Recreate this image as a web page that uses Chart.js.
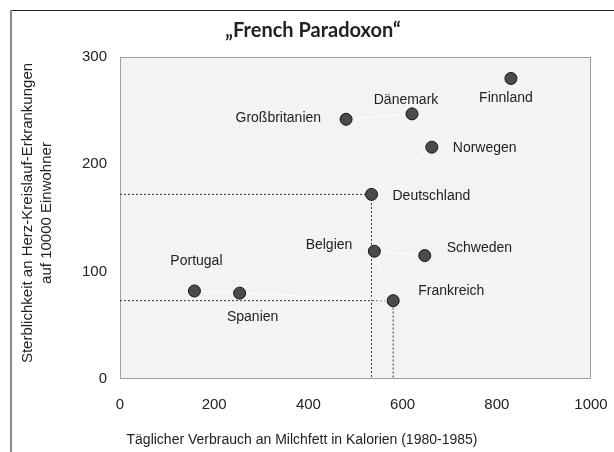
<!DOCTYPE html>
<html>
<head>
<meta charset="utf-8">
<script src="https://cdn.jsdelivr.net/npm/chart.js@4"></script>
<style>
  html, body { margin: 0; padding: 0; background: #fff; }
  #wrap { width: 614px; height: 452px; }
</style>
</head>
<body>
<div id="wrap"><canvas id="myChart" width="614" height="452"></canvas></div>
<script>
"use strict";

// Daten
const countries = ["Finnland", "Dänemark", "Großbritanien", "Norwegen", "Deutschland",
                   "Belgien", "Schweden", "Frankreich", "Portugal", "Spanien"];
const milkFat   = [830, 620, 480, 662, 534, 540, 647, 580, 158, 254];   // kcal / Tag
const mortality = [280, 247, 242, 216, 172, 119, 115, 73, 82, 80];      // je 10000 Einwohner
const xTicks = [0, 200, 400, 600, 800, 1000];
const yTicks = [0, 100, 200, 300];

// weisse Verbindungslinien zwischen Ländern
const linkChains = [
    ["Schweden", "Belgien", "Frankreich", "Spanien", "Portugal"],
    ["Deutschland", "Norwegen", "Dänemark", "Großbritanien"]
];
// gestrichelte Hilfslinien zu den Achsen
const dropTo = ["Deutschland", "Frankreich"];

const chartTitle = "„French Paradoxon“";
const xTitle = "Täglicher Verbrauch an Milchfett in Kalorien (1980-1985)";
const yTitle = ["Sterblichkeit an Herz-Kreislauf-Erkrankungen", "auf 10000 Einwohner"];

function pt(name) {
    const i = countries.indexOf(name);
    return { x: milkFat[i], y: mortality[i] };
}

// Beschriftungs-Versatz (dx, dy, Ausrichtung)
const labelPos = {
    "Finnland":      [-5, 20, "center"],
    "Dänemark":      [-6, -14, "center"],
    "Großbritanien": [-25, -1, "right"],
    "Norwegen":      [21, 1, "left"],
    "Deutschland":   [21, 2, "left"],
    "Belgien":       [-22, -6, "right"],
    "Schweden":      [22, -7, "left"],
    "Frankreich":    [25, -10, "left"],
    "Portugal":      [2, -30, "center"],
    "Spanien":       [13, 24, "center"]
};

const FAMILY = '"Liberation Sans", Arial, sans-serif';

const decorPlugin = {
    id: 'decor',
    beforeDraw(chart) {
        const ctx = chart.ctx;
        const a = chart.chartArea;
        ctx.save();
        ctx.fillStyle = '#fff';
        ctx.fillRect(0, 0, chart.width, chart.height);
        // Rahmen
        ctx.strokeStyle = '#222';
        ctx.lineWidth = 1;
        ctx.beginPath();
        ctx.moveTo(10, 10.5);
        ctx.lineTo(chart.width, 10.5);
        ctx.stroke();
        ctx.strokeStyle = '#8a8a8a';
        ctx.lineWidth = 2;
        ctx.beginPath();
        ctx.moveTo(11, 10);
        ctx.lineTo(11, chart.height);
        ctx.stroke();
        // Plotfläche
        ctx.fillStyle = '#f3f3f3';
        ctx.fillRect(a.left, a.top, a.right - a.left, a.bottom - a.top);
        ctx.strokeStyle = '#a0a0a0';
        ctx.lineWidth = 1;
        ctx.strokeRect(a.left + 0.5, a.top + 0.5, a.right - a.left - 1, a.bottom - a.top - 1);
        ctx.restore();
    },
    afterDatasetsDraw(chart) {
        const ctx = chart.ctx;
        const xs = chart.scales.x, ys = chart.scales.y;
        ctx.save();
        ctx.font = '14px ' + FAMILY;
        ctx.fillStyle = '#222';
        ctx.textBaseline = 'middle';
        countries.forEach(function (c, i) {
            const p = labelPos[c];
            ctx.textAlign = p[2];
            ctx.fillText(c, xs.getPixelForValue(milkFat[i]) + p[0], ys.getPixelForValue(mortality[i]) + p[1]);
        });
        // Achsentitel
        ctx.textAlign = 'center';
        ctx.fillText(xTitle, 302, 440);
        ctx.font = '15px ' + FAMILY;
        ctx.translate(28, 213);
        ctx.rotate(-Math.PI / 2);
        ctx.fillText(yTitle[0], 0, 0);
        ctx.fillText(yTitle[1], 0, 19);
        ctx.restore();
    }
};

const datasets = [{
    label: 'Länder',
    data: countries.map(pt),
    showLine: false,
    pointRadius: 6,
    pointHoverRadius: 6,
    pointBackgroundColor: '#4b4b4b',
    pointBorderColor: '#151515',
    pointBorderWidth: 1
}];
linkChains.forEach(function (chain) {
    datasets.push({
        data: chain.map(pt),
        showLine: true,
        borderColor: '#ffffff',
        borderWidth: 1,
        pointRadius: 0
    });
});
dropTo.forEach(function (name) {
    const p = pt(name);
    datasets.push({
        data: [{ x: 0, y: p.y }, { x: p.x, y: p.y }, { x: p.x, y: 0 }],
        showLine: true,
        borderColor: '#333',
        borderWidth: 1,
        borderDash: [2, 2],
        pointRadius: 0
    });
});

const ctx = document.getElementById('myChart').getContext('2d');
const chart = new Chart(ctx, {
    type: 'scatter',
    data: { datasets: datasets },
    options: {
        responsive: false,
        animation: false,
        devicePixelRatio: 1,
        layout: { padding: { top: 0, right: 23, bottom: 0, left: 35 } },
        plugins: {
            legend: { display: false },
            tooltip: { enabled: false },
            title: {
                display: true,
                text: chartTitle,
                color: '#222',
                font: { family: 'Lato', size: 20, weight: 'bold' },
                padding: { top: 19, bottom: 14 }
            }
        },
        scales: {
            x: {
                type: 'linear',
                min: 0, max: 1000,
                afterBuildTicks: function (s) { s.ticks = xTicks.map(function (v) { return { value: v }; }); },
                afterFit: function (s) { s.height = 73; s.paddingLeft = 0; s.paddingRight = 0; },
                grid: { display: false, drawTicks: false },
                border: { display: false },
                ticks: {
                    padding: 17,
                    color: '#222',
                    font: { family: FAMILY, size: 15 },
                    callback: function (v) { return String(v); }
                }
            },
            y: {
                type: 'linear',
                min: 0, max: 300,
                afterBuildTicks: function (s) { s.ticks = yTicks.map(function (v) { return { value: v }; }); },
                afterFit: function (s) { s.width = 85; s.paddingTop = 0; s.paddingBottom = 0; },
                grid: { display: false, drawTicks: false },
                border: { display: false },
                ticks: {
                    padding: 13,
                    color: '#222',
                    font: { family: FAMILY, size: 15 },
                    callback: function (v) { return String(v); }
                }
            }
        }
    },
    plugins: [decorPlugin]
});
</script>
</body>
</html>
